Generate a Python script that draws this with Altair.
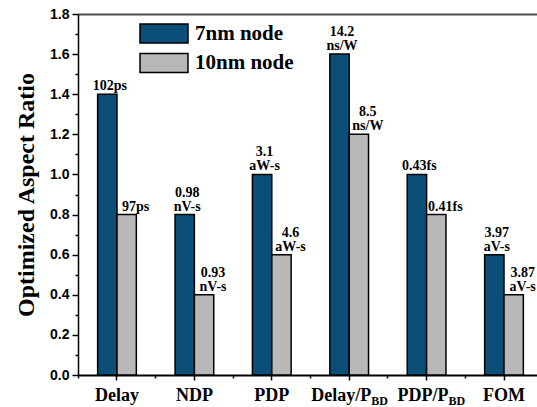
import altair as alt
import pandas as pd

# ---- data ----
categories = ["Delay", "NDP", "PDP", "Delay/PBD", "PDP/PBD", "FOM"]
series = ["7nm node", "10nm node"]
ratio_7nm = [1.4, 0.8, 1.0, 1.6, 1.0, 0.6]
ratio_10nm = [0.8, 0.4, 0.6, 1.2, 0.8, 0.4]
# value annotations: upper line / lower line (lower line sits on the bar)
upper_7nm = ["", "0.98", "3.1", "14.2", "", "3.97"]
lower_7nm = ["102ps", "nV-s", "aW-s", "ns/W", "0.43fs", "aV-s"]
upper_10nm = ["", "0.93", "4.6", "8.5", "", "3.87"]
lower_10nm = ["97ps", "nV-s", "aW-s", "ns/W", "0.41fs", "aV-s"]
axis_main = ["Delay", "NDP", "PDP", "Delay/P", "PDP/P", "FOM"]
axis_sub = ["", "", "", "BD", "BD", ""]
y_major = [0.0, 0.2, 0.4, 0.6, 0.8, 1.0, 1.2, 1.4, 1.6, 1.8]
y_minor = [0.1, 0.3, 0.5, 0.7, 0.9, 1.1, 1.3, 1.5, 1.7]

rows = []
for i, c in enumerate(categories):
    rows.append({"category": c, "series": series[0], "ratio": ratio_7nm[i],
                 "upper": upper_7nm[i], "lower": lower_7nm[i]})
    rows.append({"category": c, "series": series[1], "ratio": ratio_10nm[i],
                 "upper": upper_10nm[i], "lower": lower_10nm[i]})
df = pd.DataFrame(rows)
axis_df = pd.DataFrame({"category": categories, "main": axis_main, "sub": axis_sub})

BLUE = "#0b4f79"
GREY = "#b8b8b8"
SERIF = "Liberation Serif"
SANS = "Liberation Sans"
W, H = 459, 361

xscale = alt.Scale(domain=categories, paddingInner=0.5, paddingOuter=0.215, align=0.59)
oscale = alt.Scale(domain=series, paddingInner=0, paddingOuter=0)
yscale = alt.Scale(domain=[0, 1.8], nice=False)

bars = alt.Chart(df).mark_bar(stroke="black", strokeWidth=1.5).encode(
    x=alt.X("category:N", sort=categories, scale=xscale,
            axis=alt.Axis(orient="bottom", title=None, labelAngle=0,
                          labelExpr="indexof(datum.value, '/') >= 0 ? '' : datum.value",
                          labelFont=SERIF, labelFontWeight="bold", labelFontSize=18,
                          labelColor="black", labelPadding=6, tickSize=5, tickWidth=1.5,
                          tickColor="black", domainColor="black", domainWidth=2)),
    xOffset=alt.XOffset("series:N", sort=series, scale=oscale),
    y=alt.Y("ratio:Q", scale=yscale,
            axis=alt.Axis(orient="left", title="Optimized Aspect Ratio", values=y_major,
                          format=".1f", grid=False, labelFont=SANS, labelFontWeight="bold",
                          labelFontSize=14, labelColor="black", labelPadding=3,
                          tickSize=6, tickWidth=1.5, tickColor="black",
                          domainColor="black", domainWidth=1.5,
                          titleFont=SERIF, titleFontSize=24, titleFontWeight="bold",
                          titleColor="black", titlePadding=11)),
    fill=alt.Fill("series:N", sort=series,
                  scale=alt.Scale(domain=series, range=[BLUE, GREY]),
                  legend=alt.Legend(title=None, orient="none", legendX=73, legendY=6.5,
                                    symbolType="M-2,-0.8H2V0.8H-2Z", symbolSize=576,
                                    symbolStrokeColor="black", symbolStrokeWidth=1.5,
                                    symbolOpacity=1, labelFont=SERIF, labelFontWeight="bold",
                                    labelFontSize=21, labelColor="black", labelOffset=18,
                                    labelLimit=0, rowPadding=3.5, padding=0)),
)

def value_labels(name, field, dx, dy):
    return alt.Chart(df).transform_filter(alt.datum.series == name).mark_text(
        font=SERIF, fontWeight="bold", fontSize=14, baseline="alphabetic",
        dx=dx, dy=dy, color="black"
    ).encode(
        x=alt.X("category:N", sort=categories, axis=None),
        xOffset=alt.XOffset("series:N", sort=series),
        y=alt.Y("ratio:Q", axis=None),
        text=f"{field}:N",
    )

labels = [
    value_labels(series[0], "lower", 2.5, -4),
    value_labels(series[0], "upper", 2.5, -18),
    value_labels(series[1], "lower", 9, -4),
    value_labels(series[1], "upper", 9, -18),
]

sub_main = alt.Chart(axis_df).transform_filter(alt.datum.sub != "").mark_text(
    font=SERIF, fontWeight="bold", fontSize=18, align="right", baseline="alphabetic",
    dx=22, color="black"
).encode(
    x=alt.X("category:N", sort=categories, axis=None),
    y=alt.value(H + 26),
    text="main:N",
)
sub_sub = alt.Chart(axis_df).transform_filter(alt.datum.sub != "").mark_text(
    font=SERIF, fontWeight="bold", fontSize=12, align="left", baseline="alphabetic",
    dx=22, color="black"
).encode(
    x=alt.X("category:N", sort=categories, axis=None),
    y=alt.value(H + 30),
    text="sub:N",
)

minor = alt.Chart(df).mark_point(opacity=0).encode(
    x=alt.X("category:N", sort=categories,
            axis=alt.Axis(orient="bottom", title=None, labels=False, domain=False,
                          bandPosition=-0.5, tickSize=3, tickWidth=1.5, tickColor="black")),
    y=alt.Y("ratio:Q",
            axis=alt.Axis(orient="left", title=None, labels=False, domain=False,
                          values=y_minor, grid=False, tickSize=3, tickWidth=1.5,
                          tickColor="black")),
)

topline = alt.Chart(df).mark_point(opacity=0).encode(
    x=alt.X("category:N", sort=categories,
            axis=alt.Axis(orient="top", title=None, labels=False, ticks=False,
                          domainColor="#4d4d4d", domainWidth=2)),
)

chart = alt.layer(bars, *labels, sub_main, sub_sub, minor, topline).resolve_axis(
    x="independent", y="independent"
).properties(
    width=W, height=H,
    autosize=alt.AutoSizeParams(type="none"),
    padding={"left": 78, "top": 14, "right": 0, "bottom": 32},
).configure_view(stroke=None)

chart.save("out.html", embed_options={"renderer": "svg", "actions": False})
